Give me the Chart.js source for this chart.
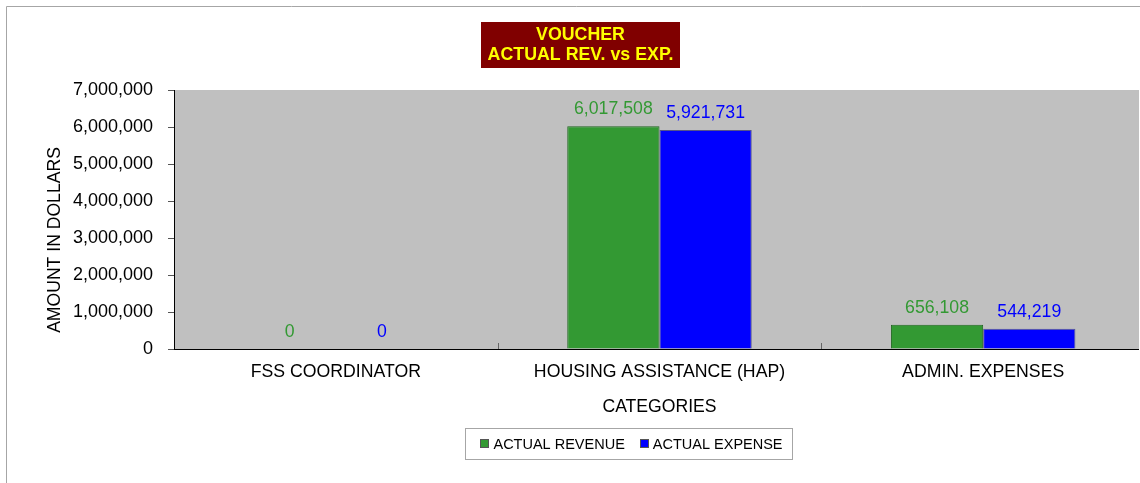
<!DOCTYPE html>
<html><head><meta charset="utf-8">
<script src="https://cdn.jsdelivr.net/npm/chart.js@4"></script>
<style>html,body{margin:0;padding:0;background:#fff;overflow:hidden}#wrap{width:1140px;height:483px;position:relative;overflow:hidden}</style>
</head><body><div id="wrap"><canvas id="c" width="1146" height="483"></canvas></div>
<script>
const categories = ['FSS COORDINATOR', 'HOUSING ASSISTANCE (HAP)', 'ADMIN. EXPENSES'];
const seriesNames = ['ACTUAL REVENUE', 'ACTUAL EXPENSE'];
const actualRevenue = [0, 6017508, 656108];
const actualExpense = [0, 5921731, 544219];
const yTicks = [0, 1000000, 2000000, 3000000, 4000000, 5000000, 6000000, 7000000];
const titleLines = ['VOUCHER', 'ACTUAL REV. vs EXP.'];
const yAxisTitle = 'AMOUNT IN DOLLARS';
const xAxisTitle = 'CATEGORIES';

const FONT = '"Liberation Sans", Arial, sans-serif';
const fmt = v => Number(v).toLocaleString('en-US');

const decorPlugin = {
  id: 'decor',
  beforeDraw(chart) {
    const {ctx, chartArea: a} = chart;
    ctx.save();
    ctx.fillStyle = '#fff';
    ctx.fillRect(0, 0, chart.width, chart.height);
    ctx.strokeStyle = '#a6a6a6';
    ctx.lineWidth = 1;
    ctx.beginPath();
    ctx.moveTo(6.5, chart.height + 5);
    ctx.lineTo(6.5, 6.5);
    ctx.lineTo(chart.width + 5, 6.5);
    ctx.stroke();
    ctx.fillStyle = '#c0c0c0';
    ctx.fillRect(a.left, a.top, Math.min(a.right, 1139) - a.left, a.bottom - a.top);
    ctx.restore();
  },
  afterDatasetsDraw(chart) {
    const {ctx} = chart;
    ctx.save();
    ctx.font = '17.7px ' + FONT;
    ctx.textAlign = 'center';
    ctx.textBaseline = 'middle';
    chart.data.datasets.forEach((ds, i) => {
      const meta = chart.getDatasetMeta(i);
      ctx.fillStyle = ds.labelColor;
      meta.data.forEach((el, j) => {
        ctx.fillText(fmt(ds.data[j]), el.x, el.y - 17);
      });
    });
    ctx.restore();
  },
  afterDraw(chart) {
    const {ctx, chartArea: a} = chart;
    ctx.save();
    // white margin right of the clipped plot
    ctx.fillStyle = '#fff';
    ctx.fillRect(1139, 7, chart.width - 1139, chart.height - 7);
    // title box
    ctx.fillStyle = '#800000';
    ctx.fillRect(481, 22, 199, 46);
    ctx.fillStyle = '#ffff00';
    ctx.font = 'bold 17.8px ' + FONT;
    ctx.textAlign = 'center';
    ctx.textBaseline = 'middle';
    ctx.fillText(titleLines[0], 580.5, 35);
    ctx.fillText(titleLines[1], 580.5, 55);
    // y axis title
    ctx.save();
    ctx.translate(55, 240);
    ctx.rotate(-Math.PI / 2);
    ctx.fillStyle = '#000';
    ctx.font = '17.6px ' + FONT;
    ctx.fillText(yAxisTitle, 0, 0);
    ctx.restore();
    // inside x ticks between categories
    const xs = chart.scales.x;
    ctx.strokeStyle = '#666';
    ctx.lineWidth = 1;
    for (let i = 0; i < categories.length - 1; i++) {
      const px = Math.round((xs.getPixelForValue(i) + xs.getPixelForValue(i + 1)) / 2) + 0.5;
      ctx.beginPath();
      ctx.moveTo(px, a.bottom);
      ctx.lineTo(px, a.bottom - 6);
      ctx.stroke();
    }
    // legend
    ctx.font = '14.5px ' + FONT;
    ctx.textAlign = 'left';
    const sq = 9, gap = 4, spacing = 15, padL = 15, padR = 10;
    const items = chart.data.datasets.map(ds => ({label: ds.label, color: ds.backgroundColor, w: sq + gap + ctx.measureText(ds.label).width}));
    const total = items.reduce((s, it) => s + it.w, 0) + spacing * (items.length - 1);
    const cx = 631.5, cy = 443.5;
    const x0 = cx - total / 2;
    ctx.strokeStyle = '#a6a6a6';
    ctx.strokeRect(Math.round(x0 - padL) + 0.5, 428.5, Math.round(total + padL + padR), 31);
    let x = x0;
    items.forEach(it => {
      ctx.fillStyle = it.color;
      ctx.fillRect(Math.round(x), Math.round(cy - sq / 2), sq, sq);
      ctx.strokeStyle = '#555';
      ctx.strokeRect(Math.round(x) + 0.5, Math.round(cy - sq / 2) + 0.5, sq - 1, sq - 1);
      ctx.fillStyle = '#000';
      ctx.fillText(it.label, x + sq + gap, cy + 1);
      x += it.w + spacing;
    });
    ctx.restore();
  }
};

new Chart(document.getElementById('c'), {
  type: 'bar',
  data: {
    labels: categories,
    datasets: [
      {label: seriesNames[0], data: actualRevenue, backgroundColor: '#339933', borderColor: '#216621', labelColor: '#339933',
       borderWidth: c => (c.raw ? 1 : 0), borderSkipped: 'bottom'},
      {label: seriesNames[1], data: actualExpense, backgroundColor: '#0000ff', borderColor: '#55558a', labelColor: '#0000ff',
       borderWidth: c => (c.raw ? 1 : 0), borderSkipped: 'bottom'}
    ]
  },
  options: {
    responsive: false,
    animation: false,
    devicePixelRatio: 1,
    layout: {padding: {top: 90, left: 0, right: 1, bottom: 0}},
    datasets: {bar: {categoryPercentage: 0.57, barPercentage: 1.0}},
    plugins: {legend: {display: false}, title: {display: false}, tooltip: {enabled: false}},
    scales: {
      x: {
        grid: {display: false},
        border: {display: true, color: '#000', width: 1},
        ticks: {color: '#000', font: {family: FONT, size: 17.7}, padding: 4, maxRotation: 0},
        title: {display: true, text: xAxisTitle, color: '#000', font: {family: FONT, size: 17.6}, padding: {top: 0, bottom: 65}},
        afterFit: s => { s.height = 134; }
      },
      y: {
        min: 0, max: 7000000,
        afterBuildTicks: s => { s.ticks = yTicks.map(v => ({value: v})); },
        grid: {drawOnChartArea: false, drawTicks: true, tickLength: 6, color: '#555'},
        border: {display: true, color: '#000', width: 1},
        ticks: {color: '#000', font: {family: FONT, size: 18}, padding: 15, callback: v => fmt(v)},
        afterFit: s => { s.width = 174; }
      }
    }
  },
  plugins: [decorPlugin]
});
</script></body></html>
